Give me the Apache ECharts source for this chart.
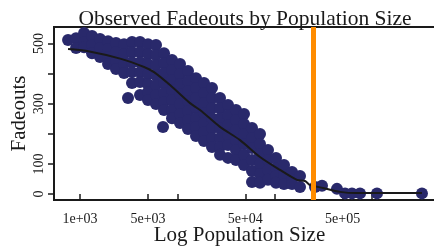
<!DOCTYPE html>
<html>
<head>
<meta charset="utf-8">
<script src="https://cdn.jsdelivr.net/npm/echarts@6/dist/echarts.min.js"></script>
<style>
  html, body { margin: 0; padding: 0; background: #fff; }
  #main { width: 434px; height: 250px; }
</style>
</head>
<body>
<div id="main"></div>
<script>
// observed fadeouts per population size [population, fadeouts]
var observed = [
    [753, 512],
    [910, 518], [910, 485],
    [1100, 535], [1100, 505], [1100, 488],
    [1328, 525], [1328, 495], [1328, 468],
    [1605, 515], [1605, 485], [1605, 455],
    [1940, 508], [1940, 482], [1940, 455], [1940, 432],
    [2344, 502], [2344, 472], [2344, 442], [2344, 415],
    [2833, 498], [2833, 465], [2833, 432], [2833, 402],
    [3423, 505], [3423, 472], [3423, 438], [3423, 405], [3423, 369],
    [4137, 505], [4137, 472], [4137, 438], [4137, 405], [4137, 372], [4137, 329],
    [4998, 498], [4998, 465], [4998, 432], [4998, 399], [4998, 365], [4998, 339], [4998, 312],
    [6040, 495], [6040, 462], [6040, 429], [6040, 395], [6040, 362], [6040, 329], [6040, 299],
    [7300, 468], [7300, 435], [7300, 402], [7300, 369], [7300, 336], [7300, 306], [7300, 279],
    [8820, 445], [8820, 412], [8820, 379], [8820, 345], [8820, 312], [8820, 279], [8820, 252],
    [10660, 432], [10660, 399], [10660, 365], [10660, 332], [10660, 299], [10660, 266], [10660, 236],
    [12880, 409], [12880, 375], [12880, 342], [12880, 309], [12880, 276], [12880, 246], [12880, 216],
    [15570, 385], [15570, 352], [15570, 319], [15570, 286], [15570, 252], [15570, 223], [15570, 193],
    [18810, 369], [18810, 336], [18810, 302], [18810, 269], [18810, 236], [18810, 206], [18810, 176],
    [22730, 352], [22730, 319], [22730, 286], [22730, 252], [22730, 219], [22730, 186], [22730, 156],
    [27470, 319], [27470, 286], [27470, 252], [27470, 219], [27470, 186], [27470, 156], [27470, 130],
    [33200, 296], [33200, 262], [33200, 229], [33200, 196], [33200, 163], [33200, 120],
    [40120, 279], [40120, 246], [40120, 213], [40120, 179], [40120, 146], [40120, 113],
    [48480, 266], [48480, 233], [48480, 199], [48480, 166], [48480, 130], [48480, 96],
    [58590, 219], [58590, 186], [58590, 153], [58590, 113], [58590, 76], [58590, 40],
    [70800, 199], [70800, 166], [70800, 133], [70800, 100], [70800, 66], [70800, 37],
    [85560, 146], [85560, 113], [85560, 80], [85560, 47],
    [103400, 120], [103400, 86], [103400, 60], [103400, 37],
    [124900, 96], [124900, 63], [124900, 33],
    [151000, 73], [151000, 47], [151000, 33],
    [182400, 60], [182400, 23],
    [3113, 319], [7129, 223],
    [260000, 23], [307000, 27], [437600, 17], [529600, 2], [624000, 2],
    [755000, 2], [1128000, 2], [3270000, 2]
];

// smoothed trend
var trendPop = [753, 1180, 2639, 4548, 5760, 8414, 13510, 17120, 27470, 44100,
    70800, 113600, 169900, 205300, 231100, 314400, 470000, 703000, 3273000];
var trendFade = [482, 475, 449, 422, 405, 362, 302, 279, 223, 179,
    123, 80, 47, 43, 30, 20, 7, 3, 3];

var cutoffPop = 250000;

var xTicks = [1000, 5000, 10000, 50000, 100000, 500000, 1000000];
var xTickLabels = ['1e+03', '5e+03', '', '5e+04', '', '5e+05', ''];
var yTicks = [0, 100, 200, 300, 400, 500];
var yTickLabels = ['0', '100', '', '300', '', '500'];

var font = 'Liberation Serif';
var ink = '#1a1a1a';

function nearestLabel(v, ticks, labels) {
    var best = 0;
    for (var i = 1; i < ticks.length; i++) {
        if (Math.abs(Math.log(ticks[i]) - Math.log(v)) < Math.abs(Math.log(ticks[best]) - Math.log(v))) best = i;
    }
    return labels[best];
}

var chart = echarts.init(document.getElementById('main'));

var option = {
    animation: false,
    backgroundColor: '#fff',
    title: {
        text: 'Observed Fadeouts by Population Size',
        left: 240,
        top: 3,
        textAlign: 'center',
        textStyle: { fontFamily: font, fontSize: 21.5, fontWeight: 'normal', color: ink }
    },
    grid: {
        left: 54, top: 27, right: -2, bottom: 50,
        outerBoundsMode: 'none',
        containLabel: false,
        show: true, borderColor: ink, borderWidth: 2
    },
    xAxis: {
        type: 'log',
        logBase: 10,
        min: 540,
        max: 4560000,
        name: 'Log Population Size',
        nameLocation: 'middle',
        nameGap: 25,
        nameMoveOverlap: false,
        nameTextStyle: { fontFamily: font, fontSize: 21, color: ink, padding: [0, 11, 0, 0] },
        axisLine: { show: false },
        splitLine: { show: false },
        axisTick: { show: true, length: 7, customValues: xTicks, lineStyle: { color: ink, width: 1.5 } },
        axisLabel: {
            customValues: xTicks,
            margin: 12,
            fontFamily: font, fontSize: 14, color: ink,
            formatter: function (v) { return nearestLabel(v, xTicks, xTickLabels); }
        }
    },
    yAxis: {
        type: 'value',
        min: -20,
        max: 555,
        name: 'Fadeouts',
        nameLocation: 'middle',
        nameGap: 24,
        nameMoveOverlap: false,
        nameRotate: 90,
        nameTextStyle: { fontFamily: font, fontSize: 21, color: ink },
        axisLine: { show: false },
        splitLine: { show: false },
        axisTick: { show: true, length: 6, customValues: yTicks, lineStyle: { color: ink, width: 1.5 } },
        axisLabel: {
            customValues: yTicks,
            rotate: 90,
            margin: 8,
            fontFamily: font, fontSize: 14, color: ink,
            formatter: function (v) { return yTickLabels[yTicks.indexOf(Math.round(v))] || ''; }
        }
    },
    series: [
        {
            type: 'scatter',
            data: observed,
            symbolSize: 12,
            itemStyle: { color: '#29296b', opacity: 1 },
            z: 2
        },
        {
            type: 'line',
            data: trendPop.map(function (p, i) { return [p, trendFade[i]]; }),
            showSymbol: false,
            smooth: 0.3,
            lineStyle: { color: ink, width: 2 },
            z: 3,
            markLine: {
                silent: true,
                symbol: 'none',
                label: { show: false },
                lineStyle: { color: '#ff8c00', width: 5, type: 'solid' },
                data: [{ xAxis: cutoffPop }],
                z: 4
            }
        }
    ]
};

chart.setOption(option);
</script>
</body>
</html>
